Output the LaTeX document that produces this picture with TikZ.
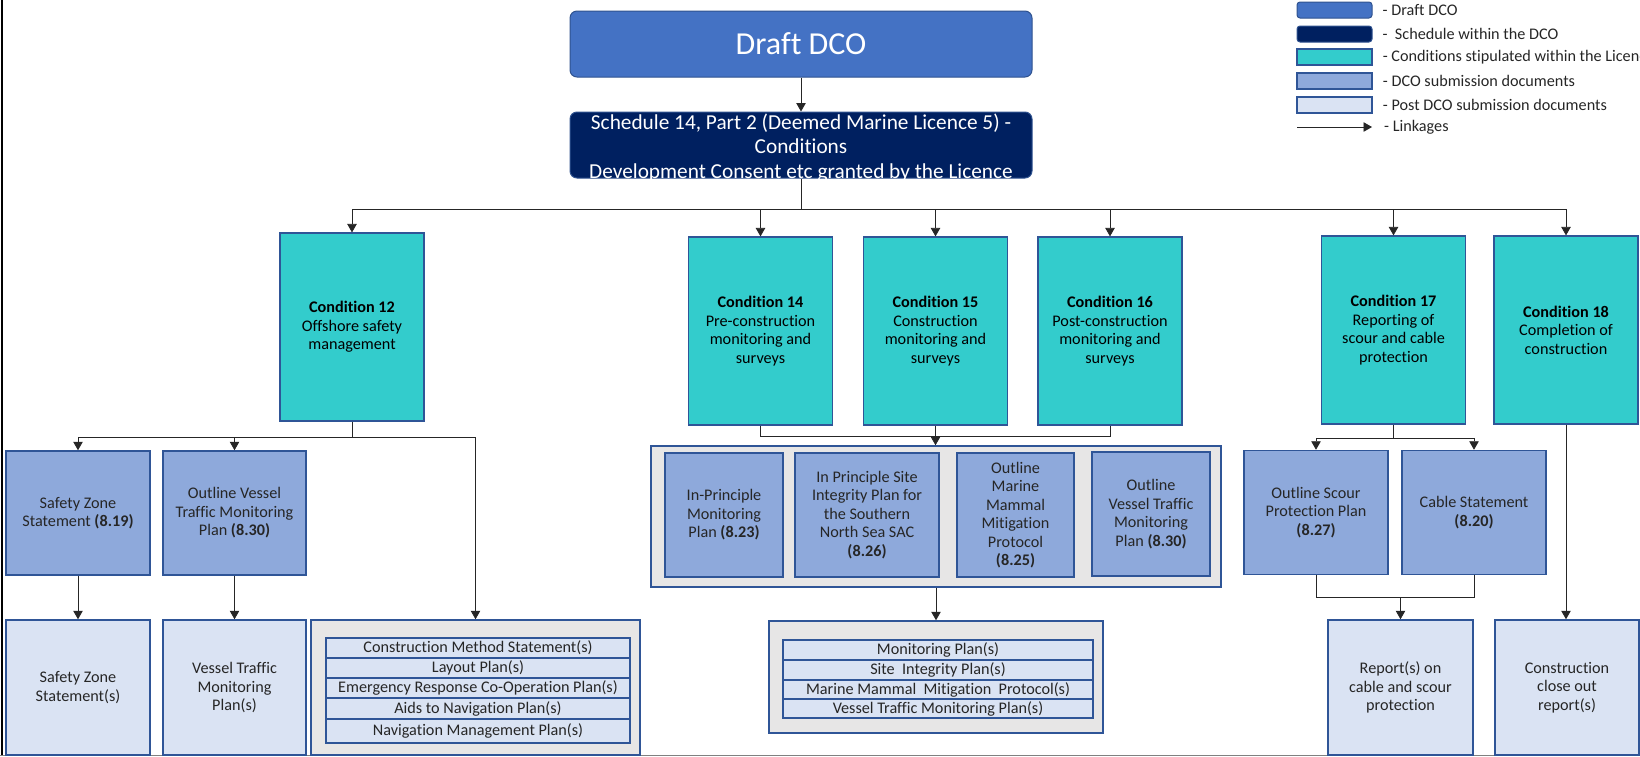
\documentclass[tikz,border=0pt]{standalone}
\usepackage{fontspec}
\setmainfont{Carlito}[Ligatures={NoCommon}]
\usepackage{tikz}
\usetikzlibrary{positioning,arrows.meta}
\definecolor{DcoBlue}{HTML}{4472C4}
\definecolor{DcoEdge}{HTML}{2F528F}
\definecolor{SchedNavy}{HTML}{002060}
\definecolor{CondTeal}{HTML}{33CCCC}
\definecolor{SubBlue}{HTML}{8EA9DB}
\definecolor{PostBlue}{HTML}{DAE3F3}
\definecolor{PanelGrey}{HTML}{E7E6E6}
\definecolor{EdgeBlue}{HTML}{2F5597}
\definecolor{LinkGrey}{HTML}{262626}

\begin{document}
\begin{tikzpicture}[x=1pt, y=-1pt,
    txt/.style={font=\fontsize{16.2}{18.5}\selectfont, align=center, inner sep=0pt, text=LinkGrey},
    dcobox/.style={txt, draw=DcoEdge, fill=DcoBlue, rounded corners=7pt, line width=1pt, text=white},
    schedbox/.style={draw=DcoEdge, fill=SchedNavy, rounded corners=7pt, line width=1pt},
    condbox/.style={txt, draw=EdgeBlue, fill=CondTeal, line width=1.2pt, minimum width=144pt, minimum height=188pt, text=black},
    subbox/.style={txt, draw=EdgeBlue, fill=SubBlue, line width=1.5pt, minimum height=124pt},
    postbox/.style={txt, draw=EdgeBlue, fill=PostBlue, line width=1.5pt, minimum width=144pt, minimum height=135pt},
    panel/.style={draw=EdgeBlue, fill=PanelGrey, line width=1.5pt},
    rowbox/.style={txt, draw=EdgeBlue, fill=PostBlue, line width=1.6pt},
    wire/.style={draw=LinkGrey, line width=0.8pt},
    link/.style={wire, -{Triangle[width=9.5pt,length=8.5pt]}},
    key/.style={txt, anchor=west}]
  \useasboundingbox (0,0) rectangle (1640,756);
  \draw[black, line width=1.5pt] (2,0) -- (2,756);
  \draw[gray, line width=1pt] (0,755.5) -- (1640,755.5);

  % top of the tree
  \node[dcobox, minimum width=462pt, minimum height=66pt, font=\fontsize{32}{36}\selectfont] (dco) at (801,44) {Draft DCO};
  \node[schedbox, minimum width=462pt, minimum height=66pt] (sched) at (801,145) {};
  \node[txt, text=white, font=\fontsize{21.3}{24.5}\selectfont] (schedTxt) at (801,148) {Schedule 14, Part 2 (Deemed Marine Licence 5) -\\Conditions\\Development Consent etc granted by the Licence};

  \node[condbox] (c12) at (352,327) {\textbf{Condition 12}\\Offshore safety\\management};
  \node[condbox] (c14) at (760.5,331) {\textbf{Condition 14}\\Pre-construction\\monitoring and\\surveys};
  \node[condbox] (c15) at (935.5,331) {\textbf{Condition 15}\\Construction\\monitoring and\\surveys};
  \node[condbox] (c16) at (1110,331) {\textbf{Condition 16}\\Post-construction\\monitoring and\\surveys};
  \node[condbox] (c17) at (1393.5,330) {\textbf{Condition 17}\\Reporting of\\scour and cable\\protection};
  \node[condbox] (c18) at (1566,330) {\textbf{Condition 18}\\Completion of\\construction};

  \draw[link] (dco.south) -- (sched.north);
  \coordinate (bus) at (801,209);
  \draw[wire] (sched.south) -- (bus);
  \draw[link] (bus) -| (c12.north);
  \draw[link] (bus) -| (c14.north);
  \draw[link] (bus) -| (c15.north);
  \draw[link] (bus) -| (c16.north);
  \draw[link] (bus) -| (c17.north);
  \draw[link] (bus) -| (c18.north);

  % condition 12 branch
  \node[subbox, minimum width=144pt] (szs) at (78,513) {Safety Zone\\Statement \textbf{(8.19)}};
  \node[subbox, minimum width=143pt] (ovtmpA) at (234.5,513) {Outline Vessel\\Traffic Monitoring\\Plan \textbf{(8.30)}};
  \node[postbox] (szsPost) at (78,687.5) {Safety Zone\\Statement(s)};
  \node[postbox, minimum width=143pt] (vtmpPost) at (234.5,687.5) {Vessel Traffic\\Monitoring\\Plan(s)};
  \node[panel, minimum width=329pt, minimum height=135pt] (panelA) at (475.5,687.5) {};
  \node[rowbox, minimum width=304pt, minimum height=20pt] (rowA1) at (478,648) {Construction Method Statement(s)};
  \node[rowbox, minimum width=304pt, minimum height=20pt] (rowA2) at (478,668) {Layout Plan(s)};
  \node[rowbox, minimum width=304pt, minimum height=20pt] (rowA3) at (478,688) {Emergency Response Co-Operation Plan(s)};
  \node[rowbox, minimum width=304pt, minimum height=21pt] (rowA4) at (478,708.5) {Aids to Navigation Plan(s)};
  \node[rowbox, minimum width=304pt, minimum height=24pt] (rowA5) at (478,731) {Navigation Management Plan(s)};

  \coordinate (busA) at (352,437);
  \draw[wire] (c12.south) -- (busA);
  \draw[link] (busA) -| (szs.north);
  \draw[link] (busA) -| (ovtmpA.north);
  \draw[link] (busA) -| (panelA.north);
  \draw[link] (szs.south) -- (szsPost.north);
  \draw[link] (ovtmpA.south) -- (vtmpPost.north);

  % conditions 14 to 16
  \node[panel, minimum width=570pt, minimum height=141pt] (panelB) at (936,516.5) {};
  \node[subbox, minimum width=118pt] (ipmp) at (724,515) {In-Principle\\Monitoring\\Plan \textbf{(8.23)}};
  \node[subbox, minimum width=144pt] (ipsip) at (867,515) {In Principle Site\\Integrity Plan for\\the Southern\\North Sea SAC\\\textbf{(8.26)}};
  \node[subbox, minimum width=117pt] (ommmp) at (1015.5,515) {Outline\\Marine\\Mammal\\Mitigation\\Protocol\\\textbf{(8.25)}};
  \node[subbox, minimum width=118pt] (ovtmpB) at (1151,514) {Outline\\Vessel Traffic\\Monitoring\\Plan \textbf{(8.30)}};
  \node[panel, minimum width=334pt, minimum height=112pt] (panelC) at (936,677) {};
  \node[rowbox, minimum width=310pt, minimum height=20pt] (rowC1) at (938,650) {Monitoring Plan(s)};
  \node[rowbox, minimum width=310pt, minimum height=20pt] (rowC2) at (938,670) {Site~ Integrity Plan(s)};
  \node[rowbox, minimum width=310pt, minimum height=19pt] (rowC3) at (938,689.5) {Marine Mammal~ Mitigation~ Protocol(s)};
  \node[rowbox, minimum width=310pt, minimum height=19pt] (rowC4) at (938,708.5) {Vessel Traffic Monitoring Plan(s)};

  \coordinate (busB) at (936,436);
  \draw[wire] (c14.south) |- (busB) -| (c16.south);
  \draw[link] (c15.south) -- (c15.south |- panelB.north);
  \draw[link] (panelB.south) -- (panelC.north);

  % conditions 17 and 18
  \node[subbox, minimum width=144pt] (ospp) at (1316,512.5) {Outline Scour\\Protection Plan\\\textbf{(8.27)}};
  \node[subbox, minimum width=144pt] (cable) at (1474,512.5) {Cable Statement\\\textbf{(8.20)}};
  \node[postbox, minimum width=145pt] (report) at (1400.5,687.5) {Report(s) on\\cable and scour\\protection};
  \node[postbox] (closeout) at (1567,687.5) {Construction\\close out\\report(s)};

  \coordinate (busC) at (1393.5,438);
  \draw[wire] (c17.south) -- (busC);
  \draw[link] (busC) -| (ospp.north);
  \draw[link] (busC) -| (cable.north);
  \coordinate (busD) at (1400.5,597);
  \draw[wire] (ospp.south) |- (busD) -| (cable.south);
  \draw[link] (busD) -- (report.north);
  \draw[link] (c18.south) -- (c18.south |- closeout.north);

  % key
  \node[dcobox, rounded corners=3pt, minimum width=75pt, minimum height=16pt] (keyDco) at (1334.5,10) {};
  \node[key, right=10pt of keyDco] (keyDcoTxt) {- Draft DCO};
  \node[schedbox, rounded corners=3pt, minimum width=75pt, minimum height=16pt] (keySched) at (1334.5,34) {};
  \node[key, right=10pt of keySched] (keySchedTxt) {-~ Schedule within the DCO};
  \node[condbox, minimum width=75pt, minimum height=16pt] (keyCond) at (1334.5,57) {};
  \node[key, right=10pt of keyCond] (keyCondTxt) {- Conditions stipulated within the Licence};
  \node[subbox, minimum width=75pt, minimum height=16pt] (keySub) at (1334.5,81) {};
  \node[key, right=10pt of keySub] (keySubTxt) {- DCO submission documents};
  \node[postbox, minimum width=75pt, minimum height=16pt] (keyPost) at (1334.5,105) {};
  \node[key, right=10pt of keyPost] (keyPostTxt) {- Post DCO submission documents};
  \coordinate (keyLinkA) at (1297,127);
  \coordinate (keyLinkB) at (1372,127);
  \draw[link] (keyLinkA) -- (keyLinkB);
  \node[key] (keyLinkTxt) at (1384,127) {- Linkages};
\end{tikzpicture}
\end{document}
